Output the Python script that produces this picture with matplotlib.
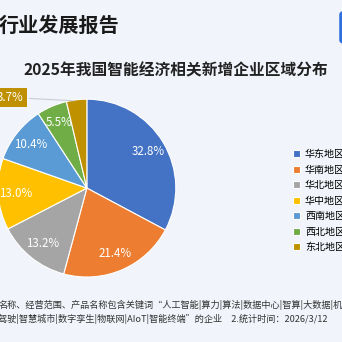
import matplotlib.pyplot as plt
from matplotlib.patches import FancyBboxPatch

plt.rcParams['font.family'] = ['Noto Sans CJK SC', 'DejaVu Sans']

regions = ['华东地区', '华南地区', '华北地区', '华中地区', '西南地区', '西北地区', '东北地区']
shares = [32.8, 21.4, 13.2, 13.0, 10.4, 5.5, 3.7]
colors = ['#4472C4', '#ED7D31', '#A5A5A5', '#FFC000', '#5B9BD5', '#70AD47', '#BF9000']

bg = '#f1f4fb'
fig = plt.figure(figsize=(3.42, 3.42), dpi=100, facecolor=bg)

# header / title
fig.text(-0.003, 0.927, '行业发展报告', fontsize=14.5, fontweight='bold', color='#1a1a1a',
         ha='left', va='center')
fig.text(0.513, 0.795, '2025年我国智能经济相关新增企业区域分布', fontsize=11.3,
         fontweight='bold', color='#222222', ha='center', va='center')
fig.patches.append(FancyBboxPatch((0.994, 0.875), 0.03, 0.09, boxstyle='round,pad=0,rounding_size=0.008',
                                  transform=fig.transFigure, color='#2f6fe0'))

# pie
ax = fig.add_axes([-0.006, 0.19, 0.52, 0.52])
wedges, texts, autotexts = ax.pie(shares, colors=colors, startangle=90, counterclock=False,
                                  autopct='%.1f%%', pctdistance=0.8,
                                  wedgeprops=dict(edgecolor='white', linewidth=0.8),
                                  textprops=dict(color='white', fontsize=8.3))
autotexts[-1].set_visible(False)
ax.set_xlim(-1, 1)
ax.set_ylim(-1, 1)
ax.set_aspect('equal')
ax.axis('off')

# outside label for the smallest slice
ax.annotate(f'{shares[-1]:.1f}%', xy=(-0.12, 0.98), xytext=(-0.86, 1.02),
            color='white', fontsize=8.3, ha='center', va='center',
            bbox=dict(boxstyle='square,pad=0.25', fc=colors[-1], ec='none'),
            arrowprops=dict(arrowstyle='-', color='#c8ccd4', lw=0.8))

# legend
fig.legend(wedges, regions, loc='upper left', bbox_to_anchor=(0.845, 0.575),
           frameon=False, fontsize=7.2, handlelength=0.7, handleheight=0.7,
           labelspacing=0.55, handletextpad=0.5, borderaxespad=0)

# footnote
fig.text(-0.005, 0.108, '名称、经营范围、产品名称包含关键词“人工智能|算力|算法|数据中心|智算|大数据|机',
         fontsize=6.6, color='#333333', ha='left', va='center')
fig.text(-0.005, 0.067, '驾驶|智慧城市|数字孪生|物联网|AIoT|智能终端”的企业　2.统计时间：2026/3/12',
         fontsize=6.6, color='#333333', ha='left', va='center')

fig.savefig('out.png', dpi=100, facecolor=bg)
